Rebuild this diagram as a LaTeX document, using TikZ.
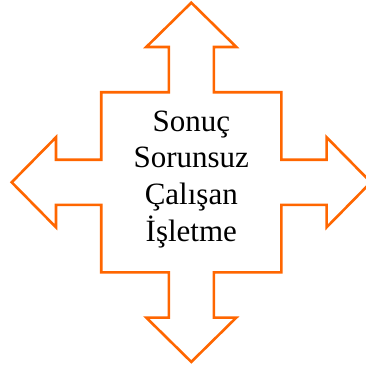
\documentclass[tikz,border=0pt]{standalone}
\usepackage{fontspec}
\setmainfont{Liberation Serif}
\usepackage{tikz}
\definecolor{arroworange}{HTML}{FF6600}

\begin{document}
\begin{tikzpicture}[x=1pt, y=1pt,
		quadarrow/.style={draw=arroworange, line width=2.6pt, line join=miter},
		result/.style={align=center, font=\fontsize{31}{36.7}\selectfont}]
			\useasboundingbox (-191.3,182.3) rectangle (174.7,-186.7);

			% four-way arrow round the centre
			\draw[quadarrow]
			(0,179.6) -- (45,135.3) -- (22.5,135.3) -- (22.5,90) -- (90,90) -- (90,22.5)
			-- (135.3,22.5) -- (135.3,45) -- (179.6,0) -- (135.3,-45) -- (135.3,-22.5)
			-- (90,-22.5) -- (90,-90) -- (22.5,-90) -- (22.5,-135.3) -- (45,-135.3)
			-- (0,-179.6) -- (-45,-135.3) -- (-22.5,-135.3) -- (-22.5,-90) -- (-90,-90)
			-- (-90,-22.5) -- (-135.3,-22.5) -- (-135.3,-45) -- (-179.6,0) -- (-135.3,45)
			-- (-135.3,22.5) -- (-90,22.5) -- (-90,90) -- (-22.5,90) -- (-22.5,135.3)
			-- (-45,135.3) -- cycle;

			\node[result] (sonuc) at (0,3) {Sonuç\\Sorunsuz\\Çalışan\\İşletme};
		\end{tikzpicture}
\end{document}
